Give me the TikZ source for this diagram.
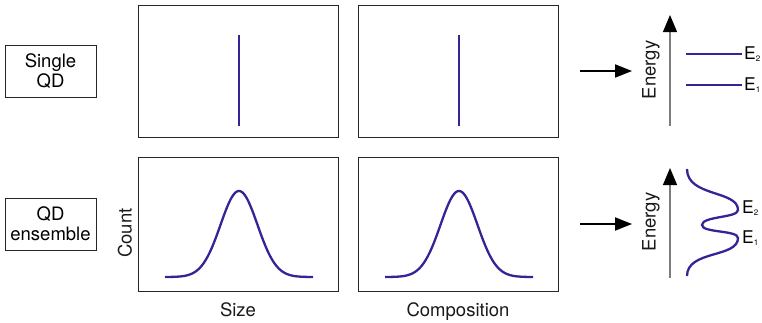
\documentclass[tikz,border=0pt]{standalone}
\usepackage{fontspec}
\setmainfont{TeX Gyre Heros}
\usetikzlibrary{arrows.meta, positioning}
\definecolor{QDblue}{RGB}{52, 36, 150}
\definecolor{axisgray}{RGB}{125, 125, 125}
\newcommand{\lvlsub}[1]{\textsubscript{\fontsize{8}{8}\selectfont #1}}
\tikzset{
    panel/.style={
        rectangle,
        draw=black!85,
        line width=1pt,
        minimum width=200pt,
        minimum height=132pt
    },
    qdbox/.style={
        rectangle,
        draw=black!85,
        line width=0.9pt,
        align=center,
        minimum width=91pt,
        minimum height=52pt,
        font=\fontsize{18.5}{20}\selectfont
    },
    axislabel/.style={
        inner sep=0pt,
        text=black!90,
        font=\fontsize{18.5}{20}\selectfont
    },
    elabel/.style={
        inner sep=0pt,
        font=\fontsize{17.5}{19}\selectfont
    },
    % blue curves and levels
    dist/.style={
        draw=QDblue,
        line width=2.3pt
    },
    arrow/.style={
        -{Triangle[length=17pt, width=13pt]},
        line width=2pt,
        color=black
    },
    energyaxis/.style={
        -{Triangle[length=17pt, width=14pt, color=black]},
        line width=1.2pt,
        draw=axisgray
    }
}
\begin{document}
\begin{tikzpicture}[x=1pt, y=-1pt, node distance=11pt]
    \useasboundingbox (0,0) rectangle (762,322);
    % panels
    \node[panel] (sizeA) at (238,71) {};
    \node[panel] (compA) at (458,71) {};
    \node[panel, minimum height=134pt] (sizeB) at (238,224) {};
    \node[panel, minimum height=134pt] (compB) at (458,224) {};
    \node[qdbox] (single) at (50.5,71) {Single\\QD};
    \node[qdbox] (ensemble) at (50.5,224) {QD\\ensemble};
    % axis labels
    \node[axislabel, below=of sizeB] (sizelbl) {Size};
    \node[axislabel, below=of compB] (complbl) {Composition};
    \node[axislabel, rotate=90] (count) at (125,233) {Count};
    % single QD: sharp lines
    \draw[dist] (239,35) -- (239,126);
    \draw[dist] (459,35) -- (459,126);
    % ensemble: gaussians
    \draw[dist] plot[domain=-74:74, samples=120] ({239+\x},{277-86*exp(-(\x/18.5)^2/2)});
    \draw[dist] plot[domain=-74:74, samples=120] ({459+\x},{277-86*exp(-(\x/18.5)^2/2)});
    % arrows
    \coordinate (arrAs) at (580,71);
    \coordinate (arrAe) at (632,71);
    \coordinate (arrBs) at (580,224);
    \coordinate (arrBe) at (632,224);
    \draw[arrow] (arrAs) -- (arrAe);
    \draw[arrow] (arrBs) -- (arrBe);
    % energy axes
    \coordinate (axAb) at (670,126);
    \coordinate (axAt) at (670,15);
    \coordinate (axBb) at (670,278);
    \coordinate (axBt) at (670,168);
    \draw[energyaxis] (axAb) -- (axAt);
    \draw[energyaxis] (axBb) -- (axBt);
    \node[axislabel, rotate=90] (energyA) at (651,70) {Energy};
    \node[axislabel, rotate=90] (energyB) at (651,222) {Energy};
    % discrete levels
    \coordinate (eTwoL) at (686,54);
    \coordinate (eTwoR) at (742,54);
    \coordinate (eOneL) at (686,85);
    \coordinate (eOneR) at (742,85);
    \draw[dist] (eTwoL) -- (eTwoR);
    \draw[dist] (eOneL) -- (eOneR);
    \node[elabel, right=2pt of eTwoR] (eTwoA) {E\lvlsub{2}};
    \node[elabel, right=2pt of eOneR] (eOneA) {E\lvlsub{1}};
    % broadened levels
    \draw[dist] (687,169) .. controls (687,197) and (738,190) .. (738,210)
        .. controls (738,218) and (702,216) .. (702,225)
        .. controls (702,233) and (738,230) .. (738,238)
        .. controls (738,258) and (687,250) .. (687,276);
    \coordinate (eTwoB) at (740,208);
    \coordinate (eOneB) at (740,238);
    \node[elabel, right=2pt of eTwoB] (eTwoC) {E\lvlsub{2}};
    \node[elabel, right=2pt of eOneB] (eOneC) {E\lvlsub{1}};
\end{tikzpicture}
\end{document}
